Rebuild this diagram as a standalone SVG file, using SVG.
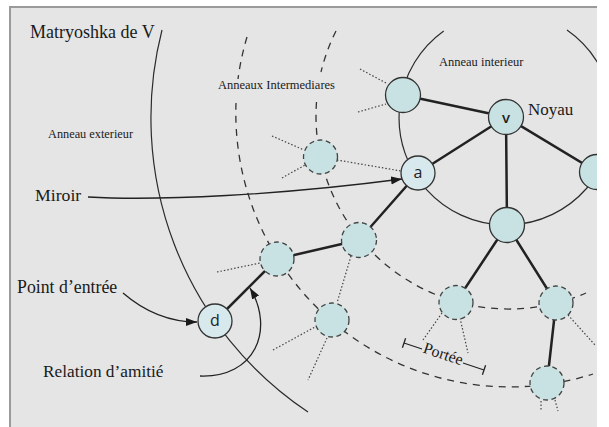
<svg xmlns="http://www.w3.org/2000/svg" width="609" height="427" viewBox="0 0 609 427">
  <defs>
    <clipPath id="frame"><rect x="10" y="7" width="587" height="420"/></clipPath>
    <marker id="arrow" markerUnits="userSpaceOnUse" markerWidth="12" markerHeight="9" refX="11" refY="4" orient="auto">
      <path d="M0,0 L11,4 L0,8 z" fill="#1a1a1a"/>
    </marker>
    <style>
      .ring{fill:none;stroke:#2b2b2b;stroke-width:1.2}
      .ring-dash{fill:none;stroke:#333;stroke-width:1.3;stroke-dasharray:7 6}
      .edge{stroke:#222;stroke-width:2.5;stroke-linecap:round}
      .dot{stroke:#444;stroke-width:1.2;stroke-dasharray:1.5 2}
      .ptr{fill:none;stroke:#222;stroke-width:1.3}
      .node{fill:#c8e2e3;stroke:#333;stroke-width:1.3}
      .node-soft{fill:#d8e9ee;stroke:#333;stroke-width:1.3}
      .node-dash{fill:#c8e2e3;stroke:#444;stroke-width:1.3;stroke-dasharray:5 3.5}
      .lbl{font-family:"Liberation Serif","Times New Roman",serif;fill:#1a1a1a}
      .nid{font-family:"Open Sans","DejaVu Sans",sans-serif;font-size:16px;fill:#222;text-anchor:middle;dominant-baseline:central}
    </style>
  </defs>

  <!-- page and frame -->
  <rect width="609" height="427" fill="#fff"/>
  <rect x="10" y="7" width="587" height="420" fill="#e5e5e5"/>
  <path d="M10,427 V7 H597" fill="none" stroke="#9a9a9a" stroke-width="2"/>

  <g clip-path="url(#frame)">
    <!-- concentric rings around v -->
    <g id="rings">
      <path class="ring" d="M162,30 A354,354 0 0 0 308,412"/>
      <path class="ring-dash" d="M247,37 A274,274 0 0 0 238,79"/>
      <path class="ring-dash" d="M236,103 A274,274 0 0 0 593,374"/>
      <path class="ring-dash" d="M336,31 A193,193 0 0 0 321,72"/>
      <path class="ring-dash" d="M316.5,102 A193,193 0 0 0 586,293"/>
      <path class="ring" d="M567,30 A107,107 0 1 1 443.7,31"/>
    </g>

    <g id="connectors">
      <!-- friendship links -->
      <line class="edge" x1="506" y1="117" x2="403" y2="95"/>
      <line class="edge" x1="506" y1="117" x2="597" y2="172"/>
      <line class="edge" x1="506" y1="117" x2="507" y2="225"/>
      <line class="edge" x1="506" y1="117" x2="418" y2="173"/>
      <line class="edge" x1="507" y1="225" x2="456" y2="302"/>
      <line class="edge" x1="507" y1="225" x2="556" y2="303"/>
      <line class="edge" x1="556" y1="303" x2="547" y2="383"/>
      <line class="edge" x1="418" y1="173" x2="359" y2="240"/>
      <line class="edge" x1="359" y1="240" x2="277" y2="259"/>
      <line class="edge" x1="277" y1="259" x2="215" y2="321"/>

      <!-- dotted outgoing links -->
      <line class="dot" x1="360" y1="69" x2="386" y2="83"/>
      <line class="dot" x1="358" y1="112" x2="386" y2="104"/>
      <line class="dot" x1="272" y1="136" x2="304" y2="150"/>
      <line class="dot" x1="282" y1="178" x2="305" y2="165"/>
      <line class="dot" x1="337" y1="160" x2="401" y2="171"/>
      <line class="dot" x1="351" y1="256" x2="337" y2="303"/>
      <line class="dot" x1="217" y1="272" x2="260" y2="263"/>
      <line class="dot" x1="273" y1="350" x2="315" y2="327"/>
      <line class="dot" x1="327" y1="338" x2="308" y2="380"/>
      <line class="dot" x1="442" y1="313" x2="423" y2="340"/>
      <line class="dot" x1="460" y1="318" x2="468" y2="353"/>
      <line class="dot" x1="568" y1="315" x2="595" y2="345"/>
      <line class="dot" x1="541" y1="401" x2="541" y2="411"/>
      <line class="dot" x1="555" y1="400" x2="558" y2="411"/>

      <!-- label pointers -->
      <path class="ptr" d="M88,197 C160,201 280,195 402,179" marker-end="url(#arrow)"/>
      <path class="ptr" d="M123,293 C145,312 170,322 197,322" marker-end="url(#arrow)"/>
      <path class="ptr" d="M200,376 C255,378 275,330 250,288" marker-end="url(#arrow)"/>
    </g>

    <!-- nodes -->
    <g id="node-v"><circle class="node" cx="506" cy="117" r="17.5"/><text class="nid" x="506" y="117" style="font-weight:600;font-size:15px">v</text></g>
    <g id="node-a"><circle class="node-soft" cx="418" cy="173" r="17"/><text class="nid" x="418" y="172">a</text></g>
    <g id="node-d"><circle class="node-soft" cx="215" cy="321" r="17"/><text class="nid" x="215" y="320">d</text></g>
    <g id="node-inner-left"><circle class="node" cx="403" cy="95" r="17.5"/></g>
    <g id="node-inner-right"><circle class="node" cx="597" cy="172" r="17.5"/></g>
    <g id="node-inner-bottom"><circle class="node" cx="507" cy="225" r="17.5"/></g>
    <g id="node-mid-1"><circle class="node-dash" cx="320.5" cy="157" r="17"/></g>
    <g id="node-mid-2"><circle class="node-dash" cx="359" cy="240" r="17.5"/></g>
    <g id="node-mid-3"><circle class="node-dash" cx="456" cy="302.5" r="17"/></g>
    <g id="node-mid-4"><circle class="node-dash" cx="556" cy="303" r="17"/></g>
    <g id="node-out-1"><circle class="node-dash" cx="277" cy="259" r="17"/></g>
    <g id="node-out-2"><circle class="node-dash" cx="332" cy="320" r="17"/></g>
    <g id="node-out-3"><circle class="node-dash" cx="547" cy="383" r="17"/></g>

    <!-- reach measure -->
    <g id="portee">
      <line class="ptr" x1="404" y1="343" x2="422" y2="349"/>
      <line class="ptr" x1="463" y1="363" x2="484" y2="370"/>
      <line class="ptr" x1="405.6" y1="338.3" x2="402.4" y2="347.7"/>
      <line class="ptr" x1="485.6" y1="365.3" x2="482.4" y2="374.7"/>
      <text class="lbl" transform="translate(442.5,356) rotate(18.6)" x="0" y="3" text-anchor="middle" font-size="16">Portée</text>
    </g>
  </g>

  <!-- labels -->
  <g id="labels">
    <text class="lbl" x="30" y="38" font-size="18">Matryoshka de V</text>
    <text class="lbl" x="48" y="138" font-size="12.3">Anneau exterieur</text>
    <text class="lbl" x="218" y="89" font-size="12.5">Anneaux Intermediares</text>
    <text class="lbl" x="439" y="66" font-size="12.5">Anneau interieur</text>
    <text class="lbl" x="528" y="115" font-size="17">Noyau</text>
    <text class="lbl" x="35" y="201" font-size="17.7">Miroir</text>
    <text class="lbl" x="17" y="293" font-size="17.8">Point d’entrée</text>
    <text class="lbl" x="43" y="377" font-size="17.3">Relation d’amitié</text>
  </g>
</svg>
